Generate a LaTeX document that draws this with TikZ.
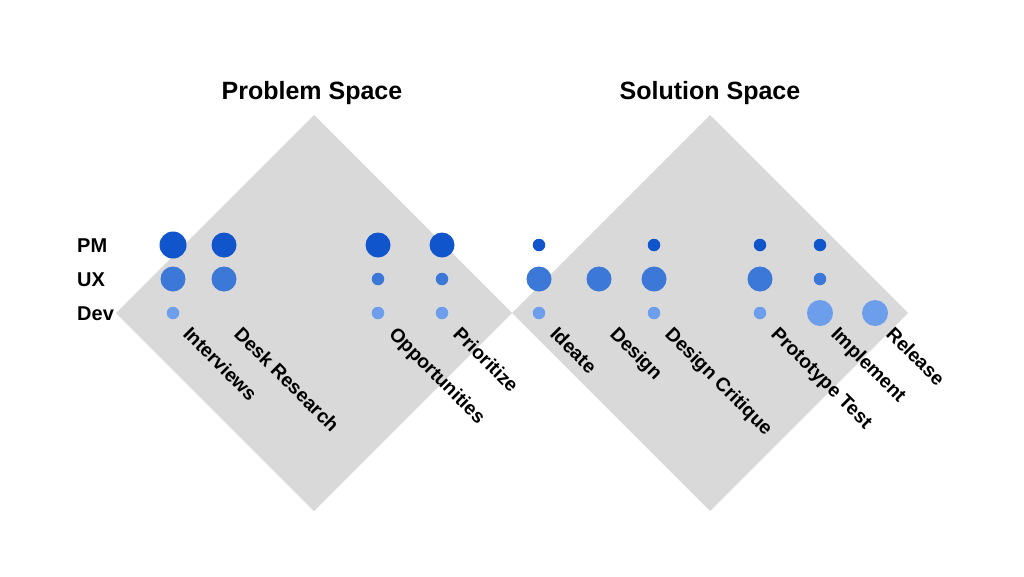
\documentclass[tikz,border=0pt]{standalone}
\usepackage{fontspec}
\setmainfont{Liberation Sans}
\definecolor{pmc}{HTML}{1155CC}
\definecolor{uxc}{HTML}{3C78D8}
\definecolor{devc}{HTML}{6D9EEB}
\definecolor{diam}{HTML}{D9D9D9}
\begin{document}
\begin{tikzpicture}[x=1pt,y=-1pt,
  dot/.style={circle,inner sep=0pt,draw=none},
  pmdot/.style={dot,fill=pmc},
  uxdot/.style={dot,fill=uxc},
  devdot/.style={dot,fill=devc},
  big/.style={minimum size=25pt},
  huge/.style={minimum size=27pt},
  small/.style={minimum size=12.5pt},
  rowlabel/.style={anchor=base west,inner sep=0pt,font=\fontsize{20}{24}\selectfont\bfseries},
  steplabel/.style={anchor=base west,inner sep=0pt,rotate=-45,font=\fontsize{19.3}{23}\selectfont\bfseries},
  title/.style={anchor=base,inner sep=0pt,font=\fontsize{25}{30}\selectfont\bfseries}]
\useasboundingbox (0,0) rectangle (1024,576);
\fill[white] (0,0) rectangle (1024,576);
% diamonds
\fill[diam] (314,115) -- (512,313) -- (314,511) -- (116,313) -- cycle;
\fill[diam] (710,115) -- (908,313) -- (710,511) -- (512,313) -- cycle;
% titles
\node[title] (t1) at (312,99) {Problem Space};
\node[title] (t2) at (710,99) {Solution Space};
% row labels
\node[rowlabel] (lpm) at (77,252) {PM};
\node[rowlabel] (lux) at (77,286) {UX};
\node[rowlabel] (ldev) at (77,320) {Dev};
% Interviews
\node[pmdot,huge] (a1) at (173,245) {};
\node[uxdot,big] (a2) at (173,279) {};
\node[devdot,small] (a3) at (173,313) {};
\node[steplabel] (la) at (182,335) {Interviews};
% Desk Research
\node[pmdot,big] (b1) at (224,245) {};
\node[uxdot,big] (b2) at (224,279) {};
\node[steplabel] (lb) at (233,335) {Desk Research};
% Opportunities
\node[pmdot,big] (c1) at (378,245) {};
\node[uxdot,small] (c2) at (378,279) {};
\node[devdot,small] (c3) at (378,313) {};
\node[steplabel] (lc) at (388,335) {Opportunities};
% Prioritize
\node[pmdot,big] (d1) at (442,245) {};
\node[uxdot,small] (d2) at (442,279) {};
\node[devdot,small] (d3) at (442,313) {};
\node[steplabel] (ld) at (452,335) {Prioritize};
% Ideate
\node[pmdot,small] (e1) at (539,245) {};
\node[uxdot,big] (e2) at (539,279) {};
\node[devdot,small] (e3) at (539,313) {};
\node[steplabel] (le) at (549,335) {Ideate};
% Design
\node[uxdot,big] (f2) at (599,279) {};
\node[steplabel] (lf) at (609,335) {Design};
% Design Critique
\node[pmdot,small] (g1) at (654,245) {};
\node[uxdot,big] (g2) at (654,279) {};
\node[devdot,small] (g3) at (654,313) {};
\node[steplabel] (lg) at (664,335) {Design Critique};
% Prototype Test
\node[pmdot,small] (h1) at (760,245) {};
\node[uxdot,big] (h2) at (760,279) {};
\node[devdot,small] (h3) at (760,313) {};
\node[steplabel] (lh) at (770,335) {Prototype Test};
% Implement
\node[pmdot,small] (i1) at (820,245) {};
\node[uxdot,small] (i2) at (820,279) {};
\node[devdot,minimum size=26pt] (i3) at (820,313) {};
\node[steplabel] (li) at (830,335) {Implement};
% Release
\node[devdot,minimum size=26pt] (j3) at (875,313) {};
\node[steplabel] (lj) at (885,335) {Release};
\end{tikzpicture}
\end{document}
